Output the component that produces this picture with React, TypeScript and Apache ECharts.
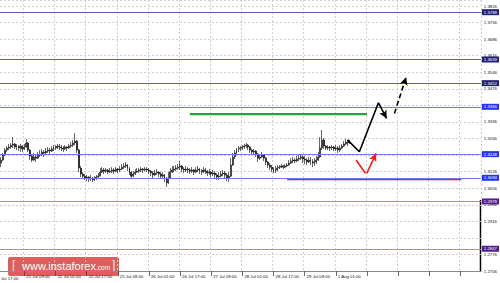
import React, { useEffect, useRef } from 'react';
import * as echarts from 'echarts';

// ---- time axis ----
const tickLabels = ['21 Jul 09:00', '22 Jul 01:00', '22 Jul 17:00', '25 Jul 09:00', '26 Jul 01:00', '26 Jul 17:00', '27 Jul 09:00', '28 Jul 01:00', '28 Jul 17:00', '29 Jul 09:00', '1 Aug 01:00'];
const cutLabel = '20 Jul 17:00';
const firstLabelBar = 12;
const barsPerLabel = 16;
const totalSlots = 247;

// ---- H1 bars (open of first bar, then close / high / low of each bar) ----
const firstOpen = 1.3162;
const closes = [
  1.3175, 1.3196, 1.3217, 1.3226, 1.3230, 1.3238, 1.3243, 1.3230, 1.3234, 1.3226,
  1.3234, 1.3222, 1.3230, 1.3247, 1.3217, 1.3192, 1.3175, 1.3188, 1.3183, 1.3196,
  1.3200, 1.3209, 1.3205, 1.3213, 1.3217, 1.3213, 1.3222, 1.3230, 1.3226, 1.3234,
  1.3230, 1.3226, 1.3222, 1.3230, 1.3226, 1.3234, 1.3238, 1.3247, 1.3255, 1.3217,
  1.3141, 1.3116, 1.3107, 1.3099, 1.3103, 1.3095, 1.3099, 1.3091, 1.3099, 1.3103,
  1.3107, 1.3124, 1.3133, 1.3128, 1.3133, 1.3124, 1.3128, 1.3133, 1.3128, 1.3137,
  1.3133, 1.3137, 1.3145, 1.3150, 1.3154, 1.3141, 1.3124, 1.3107, 1.3116, 1.3124,
  1.3128, 1.3133, 1.3137, 1.3133, 1.3137, 1.3133, 1.3128, 1.3120, 1.3112, 1.3120,
  1.3124, 1.3116, 1.3107, 1.3112, 1.3099, 1.3078, 1.3099, 1.3124, 1.3133, 1.3137,
  1.3141, 1.3145, 1.3150, 1.3137, 1.3133, 1.3137, 1.3133, 1.3128, 1.3133, 1.3124,
  1.3133, 1.3137, 1.3128, 1.3124, 1.3133, 1.3128, 1.3120, 1.3124, 1.3116, 1.3120,
  1.3112, 1.3103, 1.3107, 1.3116, 1.3120, 1.3112, 1.3099, 1.3107, 1.3154, 1.3188,
  1.3205, 1.3217, 1.3222, 1.3226, 1.3230, 1.3234, 1.3238, 1.3230, 1.3217, 1.3209,
  1.3213, 1.3200, 1.3183, 1.3188, 1.3196, 1.3183, 1.3167, 1.3154, 1.3145, 1.3137,
  1.3128, 1.3133, 1.3141, 1.3145, 1.3150, 1.3145, 1.3150, 1.3154, 1.3162, 1.3171,
  1.3175, 1.3171, 1.3179, 1.3183, 1.3188, 1.3179, 1.3175, 1.3167, 1.3175, 1.3171,
  1.3162, 1.3167, 1.3175, 1.3188, 1.3226, 1.3260, 1.3234, 1.3226, 1.3230, 1.3226,
  1.3230, 1.3222, 1.3226, 1.3217, 1.3226, 1.3234, 1.3243, 1.3251, 1.3247, 1.3251,
];
const highs = [
  1.3188, 1.3205, 1.3226, 1.3234, 1.3243, 1.3247, 1.3272, 1.3247, 1.3243, 1.3238,
  1.3243, 1.3238, 1.3243, 1.3264, 1.3251, 1.3222, 1.3200, 1.3205, 1.3196, 1.3209,
  1.3217, 1.3222, 1.3217, 1.3226, 1.3230, 1.3226, 1.3234, 1.3238, 1.3238, 1.3243,
  1.3243, 1.3238, 1.3234, 1.3238, 1.3234, 1.3243, 1.3251, 1.3260, 1.3289, 1.3260,
  1.3222, 1.3150, 1.3124, 1.3116, 1.3112, 1.3107, 1.3112, 1.3103, 1.3107, 1.3112,
  1.3120, 1.3141, 1.3145, 1.3141, 1.3141, 1.3137, 1.3141, 1.3145, 1.3141, 1.3145,
  1.3141, 1.3150, 1.3158, 1.3162, 1.3167, 1.3158, 1.3145, 1.3128, 1.3128, 1.3137,
  1.3141, 1.3141, 1.3145, 1.3141, 1.3145, 1.3145, 1.3141, 1.3133, 1.3128, 1.3133,
  1.3137, 1.3128, 1.3124, 1.3124, 1.3116, 1.3103, 1.3124, 1.3141, 1.3150, 1.3150,
  1.3154, 1.3158, 1.3171, 1.3154, 1.3145, 1.3150, 1.3145, 1.3141, 1.3145, 1.3137,
  1.3145, 1.3150, 1.3141, 1.3137, 1.3145, 1.3141, 1.3133, 1.3137, 1.3128, 1.3133,
  1.3128, 1.3120, 1.3124, 1.3128, 1.3133, 1.3128, 1.3120, 1.3124, 1.3183, 1.3205,
  1.3217, 1.3226, 1.3234, 1.3234, 1.3238, 1.3243, 1.3247, 1.3243, 1.3234, 1.3222,
  1.3222, 1.3217, 1.3205, 1.3200, 1.3209, 1.3200, 1.3188, 1.3171, 1.3162, 1.3154,
  1.3145, 1.3150, 1.3154, 1.3154, 1.3158, 1.3154, 1.3158, 1.3162, 1.3175, 1.3183,
  1.3188, 1.3183, 1.3192, 1.3196, 1.3200, 1.3196, 1.3192, 1.3183, 1.3188, 1.3188,
  1.3179, 1.3183, 1.3192, 1.3209, 1.3272, 1.3302, 1.3268, 1.3238, 1.3238, 1.3234,
  1.3238, 1.3234, 1.3238, 1.3234, 1.3238, 1.3243, 1.3255, 1.3264, 1.3260, 1.3260,
];
const lows = [
  1.3145, 1.3171, 1.3192, 1.3209, 1.3217, 1.3222, 1.3226, 1.3222, 1.3217, 1.3213,
  1.3209, 1.3209, 1.3217, 1.3226, 1.3209, 1.3175, 1.3167, 1.3171, 1.3167, 1.3179,
  1.3188, 1.3192, 1.3188, 1.3200, 1.3205, 1.3200, 1.3209, 1.3213, 1.3217, 1.3222,
  1.3217, 1.3213, 1.3209, 1.3217, 1.3213, 1.3222, 1.3226, 1.3230, 1.3238, 1.3205,
  1.3124, 1.3103, 1.3095, 1.3091, 1.3086, 1.3082, 1.3086, 1.3082, 1.3086, 1.3091,
  1.3095, 1.3107, 1.3120, 1.3116, 1.3120, 1.3116, 1.3120, 1.3120, 1.3116, 1.3124,
  1.3120, 1.3124, 1.3133, 1.3137, 1.3141, 1.3128, 1.3112, 1.3099, 1.3103, 1.3112,
  1.3120, 1.3120, 1.3124, 1.3120, 1.3128, 1.3124, 1.3116, 1.3107, 1.3099, 1.3107,
  1.3112, 1.3103, 1.3095, 1.3099, 1.3082, 1.3061, 1.3074, 1.3099, 1.3120, 1.3124,
  1.3128, 1.3133, 1.3133, 1.3124, 1.3120, 1.3124, 1.3120, 1.3116, 1.3120, 1.3112,
  1.3120, 1.3124, 1.3116, 1.3112, 1.3120, 1.3116, 1.3107, 1.3112, 1.3103, 1.3107,
  1.3099, 1.3091, 1.3091, 1.3103, 1.3107, 1.3099, 1.3086, 1.3082, 1.3103, 1.3150,
  1.3179, 1.3196, 1.3209, 1.3213, 1.3217, 1.3222, 1.3226, 1.3217, 1.3205, 1.3196,
  1.3200, 1.3188, 1.3167, 1.3175, 1.3183, 1.3171, 1.3154, 1.3141, 1.3133, 1.3124,
  1.3120, 1.3120, 1.3128, 1.3137, 1.3141, 1.3137, 1.3141, 1.3145, 1.3150, 1.3158,
  1.3162, 1.3162, 1.3167, 1.3171, 1.3175, 1.3162, 1.3158, 1.3154, 1.3162, 1.3154,
  1.3145, 1.3150, 1.3158, 1.3171, 1.3183, 1.3217, 1.3222, 1.3217, 1.3217, 1.3213,
  1.3217, 1.3213, 1.3213, 1.3205, 1.3209, 1.3222, 1.3230, 1.3238, 1.3234, 1.3243,
];

// ---- price scale ----
const priceMin = 1.2706;
const priceMax = 1.38515;
const priceStep = 0.007;
const hiddenTick = 1.2846;

// ---- horizontal levels ----
const levels = [1.3788, 1.3639, 1.3452, 1.3366, 1.3248, 1.3094, 1.2978, 1.2847];
const levelKinds = ['navy', 'navy', 'navy', 'blue', 'blue', 'blue', 'purple', 'purple'];

// ---- forecast drawings (bar index, price) ----
const resistanceZone = { x: [97, 188], y: [1.3369, 1.3369] };
const supportZone = { x: [147, 236.5], y: [1.3094, 1.3094] };
const mainPathX = [178, 184.1, 193.9, 198.1];
const mainPathY = [1.3260, 1.3210, 1.3417, 1.3351];
const nextLegX = [202.1, 208.1];
const nextLegY = [1.3372, 1.3525];
const altDownX = [182.4, 187.2];
const altDownY = [1.3175, 1.3119];
const altUpX = [187.9, 192.7];
const altUpY = [1.3119, 1.3203];

const lineColors: Record<string, string> = { navy: '#5b5ba6', blue: '#7474fb', purple: '#a887cc' };
const boxColors: Record<string, string> = { navy: '#20207a', blue: '#2334f2', purple: '#541b92' };

const FONT = '"Liberation Sans", Arial, sans-serif';

function zip(xs: number[], ys: number[]) {
  return xs.map((x, i) => [x, ys[i]]);
}

function arrowSeries(xs: number[], ys: number[], color: string, width: number, dashed: boolean, arrow: boolean) {
  const pts = zip(xs, ys);
  const n = pts.length;
  const lineStyle: any = { color, width, type: dashed ? [5, 3] : 'solid' };
  return {
    type: 'line',
    xAxisIndex: 1,
    yAxisIndex: 0,
    data: pts,
    symbol: 'none',
    silent: true,
    z: 5,
    lineStyle,
    markLine: arrow
      ? {
          silent: true,
          symbol: ['none', 'arrow'],
          symbolSize: [6, 8],
          lineStyle: { ...lineStyle, type: 'solid', width: 0.01, opacity: 1 },
          label: { show: false },
          data: [[{ coord: pts[n - 2] }, { coord: pts[n - 1] }]],
        }
      : undefined,
  };
}

function buildOption() {
  const categories: string[] = [];
  for (let i = 0; i < totalSlots; i++) categories.push('');
  tickLabels.forEach((t, k) => {
    categories[firstLabelBar + k * barsPerLabel] = t;
  });
  const showAt = (idx: number) => idx >= firstLabelBar && (idx - firstLabelBar) % barsPerLabel === 0;

  const candles = closes.map((c, i) => {
    const o = i === 0 ? firstOpen : closes[i - 1];
    const h = Math.max(highs[i], o, c);
    const l = Math.min(lows[i], o, c);
    return [o, c, l, h];
  });

  return {
    animation: false,
    backgroundColor: '#ffffff',
    textStyle: { fontFamily: FONT },
    grid: { left: 0, right: 19, top: 0, bottom: 12, containLabel: false },
    xAxis: [
      {
        type: 'category',
        data: categories,
        boundaryGap: true,
        axisLine: { show: true, lineStyle: { color: '#8a8a8a', width: 1 } },
        axisTick: { show: true, interval: showAt, alignWithLabel: true, length: 5, lineStyle: { color: '#444', width: 0.8 } },
        axisLabel: {
          show: true,
          interval: showAt,
          align: 'left',
          margin: 3,
          padding: [0, 0, 0, 2],
          fontSize: 4.3,
          color: '#111',
          fontFamily: FONT,
        },
        splitLine: { show: true, interval: showAt, lineStyle: { color: '#cfcfcf', width: 1, type: [2, 2] } },
      },
      {
        type: 'value',
        min: -0.5,
        max: totalSlots - 0.5,
        show: false,
        splitLine: { show: false },
      },
    ],
    yAxis: {
      type: 'value',
      position: 'right',
      min: priceMin,
      max: priceMax,
      interval: priceStep,
      scale: true,
      axisLine: { show: false },
      axisTick: { show: false },
      splitLine: { show: true, lineStyle: { color: '#cfcfcf', width: 1, type: [2, 2] } },
      axisLabel: {
        show: true,
        showMaxLabel: false,
        margin: 3,
        fontSize: 4.3,
        color: '#111',
        fontFamily: FONT,
        formatter: (v: number) => (Math.abs(v - hiddenTick) < 1e-6 ? '' : v.toFixed(4)),
      },
    },
    series: [
      {
        type: 'candlestick',
        data: candles,
        barWidth: 1.4,
        silent: true,
        itemStyle: {
          color: '#6a6a6a',
          color0: '#000000',
          borderColor: '#000000',
          borderColor0: '#000000',
          borderWidth: 0.6,
        },
        markLine: {
          silent: true,
          symbol: 'none',
          animation: false,
          data: levels.map((v, i) => ({
            yAxis: v,
            lineStyle: { color: lineColors[levelKinds[i]], width: 1.1, type: 'solid' },
            label: {
              show: true,
              position: 'end',
              distance: 1,
              formatter: v.toFixed(4),
              color: '#ffffff',
              backgroundColor: boxColors[levelKinds[i]],
              padding: [1, 2, 1, 2],
              fontSize: 4.3,
              fontFamily: FONT,
            },
          })),
        },
      },
      {
        type: 'line',
        xAxisIndex: 1,
        data: zip(resistanceZone.x, resistanceZone.y),
        symbol: 'none',
        silent: true,
        z: 4,
        lineStyle: { color: '#25a244', width: 2.2 },
      },
      {
        type: 'line',
        xAxisIndex: 1,
        data: zip(supportZone.x, supportZone.y),
        symbol: 'none',
        silent: true,
        z: 4,
        lineStyle: { color: '#e02424', width: 2 },
      },
      arrowSeries(mainPathX, mainPathY, '#000000', 1.6, false, true),
      arrowSeries(nextLegX, nextLegY, '#000000', 1.6, true, true),
      arrowSeries(altDownX, altDownY, '#f01e1e', 1.6, false, false),
      arrowSeries(altUpX, altUpY, '#f01e1e', 1.6, false, true),
    ],
    graphic: [
      {
        type: 'text',
        x: -5,
        y: 276.5,
        silent: true,
        style: { text: cutLabel, fontSize: 4.3, fill: '#111', fontFamily: FONT },
      },
      {
        type: 'line',
        silent: true,
        shape: { x1: 480.5, y1: 200, x2: 480.5, y2: 272 },
        style: { stroke: '#000', lineWidth: 1.5 },
      },
      {
        type: 'group',
        silent: true,
        children: [
          {
            type: 'rect',
            shape: { x: 8, y: 257, width: 111, height: 19, r: 2 },
            style: { fill: 'rgba(214, 48, 48, 0.78)' },
          },
          {
            type: 'text',
            x: 12,
            y: 259,
            style: { text: '[', fontSize: 12, fill: 'rgba(255,255,255,0.85)', fontFamily: FONT },
          },
          {
            type: 'text',
            x: 22,
            y: 260,
            style: { text: 'www.instaforex', fontSize: 11, fill: '#ffffff', fontFamily: FONT },
          },
          {
            type: 'text',
            x: 96,
            y: 264,
            style: { text: '.com', fontSize: 6.5, fill: '#ffffff', fontFamily: FONT },
          },
          {
            type: 'text',
            x: 112,
            y: 259,
            style: { text: ']', fontSize: 12, fill: 'rgba(255,255,255,0.85)', fontFamily: FONT },
          },
        ],
      },
    ],
  };
}

export default function App() {
  const ref = useRef<HTMLDivElement>(null);
  useEffect(() => {
    if (!ref.current) return;
    const chart = echarts.init(ref.current, null, { renderer: 'svg' });
    chart.setOption(buildOption() as any);
    return () => chart.dispose();
  }, []);
  return (
    <div
      ref={ref}
      style={{ position: 'absolute', left: 0, top: 0, width: 500, height: 283, background: '#ffffff' }}
    />
  );
}
